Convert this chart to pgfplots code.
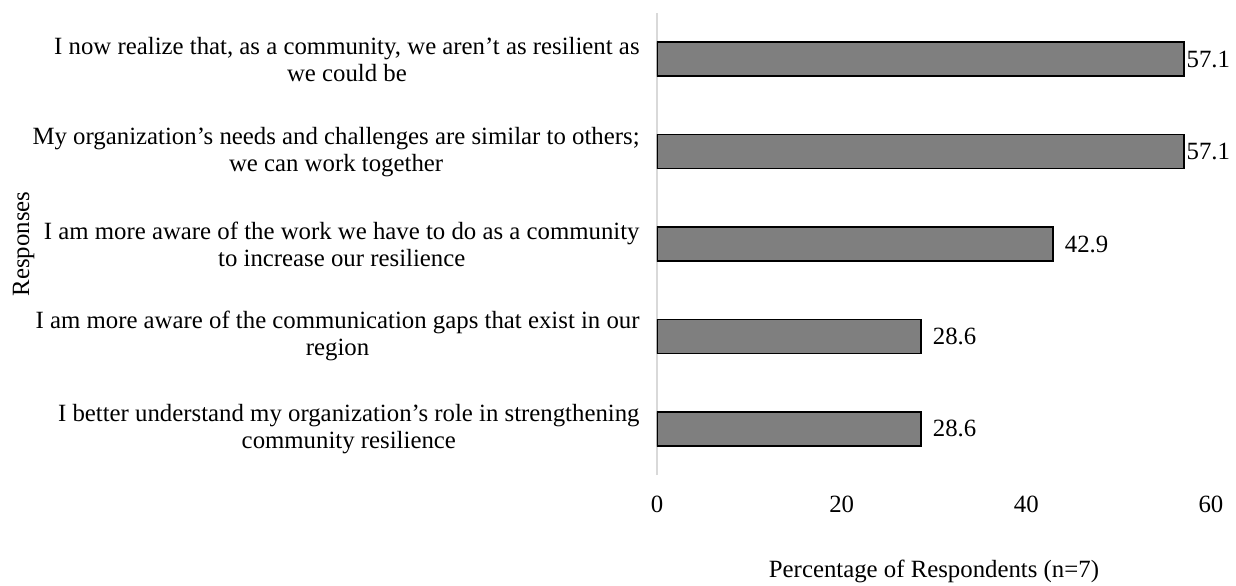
\documentclass[border=0pt]{standalone}
\usepackage{fontspec}
\setmainfont{Liberation Serif}
\usepackage{pgfplots}
\pgfplotsset{compat=1.18}
\definecolor{barfill}{RGB}{127,127,127}
\definecolor{axisgray}{RGB}{217,217,217}
\newcommand{\chartfont}{\fontsize{12.4}{13.5}\selectfont}
\begin{document}
\chartfont
\begin{tikzpicture}
\useasboundingbox (-328.5pt,-55pt) rectangle (289.5pt,237.5pt);
\begin{axis}[
    xbar,
    bar width=17pt,
    bar shift=0pt,
    scale only axis,
    width=277pt,
    height=231pt,
    xmin=0, xmax=60,
    xtick={0,20,40,60},
    ymin=-0.5, ymax=4.5,
    ytick={0,1,2,3,4},
    yticklabels={
        {I better understand my organization’s role in strengthening\\community resilience},
        {I am more aware of the communication gaps that exist in our\\region},
        {I am more aware of the work we have to do as a community\\to increase our resilience},
        {My organization’s needs and challenges are similar to others;\\we can work together},
        {I now realize that, as a community, we aren’t as resilient as\\we could be}
    },
    axis lines*=left,
    x axis line style={draw=none},
    y axis line style={draw=axisgray, line width=0.75pt},
    major tick length=0pt,
    tick style={draw=none},
    /pgf/number format/assume math mode=true,
    tick label style={font=\chartfont},
    yticklabel style={align=center, anchor=east, inner sep=0pt, xshift=-8.5pt},
    xticklabel style={anchor=center, inner sep=0pt, yshift=-14.5pt},
    xlabel={Percentage of Respondents (n=7)},
    ylabel={Responses},
    every axis x label/.style={at={(axis description cs:0.5,0)}, anchor=center, yshift=-48pt, font=\chartfont},
    every axis y label/.style={at={(axis description cs:-1.1434,0.5)}, rotate=90, anchor=center, font=\chartfont},
    nodes near coords,
    nodes near coords style={font=\chartfont, anchor=west,
        /pgf/number format/fixed, /pgf/number format/precision=1,
        /pgf/number format/fixed zerofill},
]
% bars whose labels sit at the plot edge
\addplot[fill=barfill, draw=black, line width=0.8pt,
    nodes near coords style={inner sep=0.8pt}]
    coordinates {(57.1,4) (57.1,3)};
% the others
\addplot[fill=barfill, draw=black, line width=0.8pt,
    nodes near coords style={inner sep=0pt, xshift=5.5pt}]
    coordinates {(42.9,2) (28.6,1) (28.6,0)};
\end{axis}
\end{tikzpicture}
\end{document}
